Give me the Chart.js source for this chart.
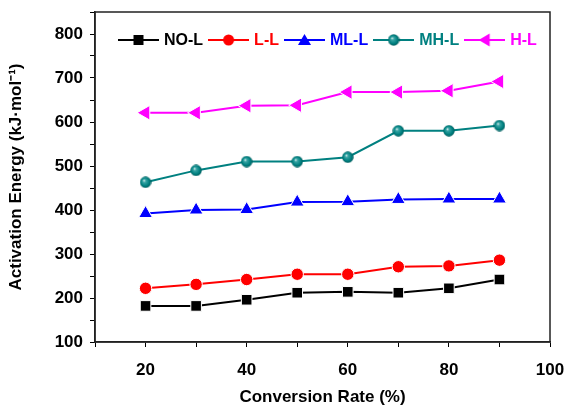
<!DOCTYPE html>
<html>
<head>
<meta charset="utf-8">
<script src="https://cdn.jsdelivr.net/npm/chart.js@4.4.1/dist/chart.umd.min.js"></script>
<style>
  html, body { margin: 0; padding: 0; background: #fff; }
  #wrap { width: 570px; height: 408px; }
</style>
</head>
<body>
<div id="wrap"><canvas id="chart" width="570" height="408"></canvas></div>
<script>
const conversion = [20, 30, 40, 50, 60, 70, 80, 90]
const noL = [182, 182, 196, 212, 214, 212, 222, 242]
const lL = [222, 231, 242, 254, 254, 271, 273, 286]
const mlL = [392, 400, 401, 418, 419, 424, 425, 425]
const mhL = [463, 490, 510, 510, 520, 580, 580, 592]
const hL = [621, 621, 637, 638, 668, 668, 671, 692]
const seriesNames = ['NO-L', 'L-L', 'ML-L', 'MH-L', 'H-L']

const font = 'Liberation Sans, Arial, sans-serif'

// teal shaded ball for MH-L
function sphere(d) {
  const c = document.createElement('canvas')
  c.width = d; c.height = d
  const ctx = c.getContext('2d')
  const g = ctx.createRadialGradient(d * 0.36, d * 0.34, 0, d / 2, d / 2, d / 2)
  g.addColorStop(0, '#ffffff')
  g.addColorStop(0.25, '#3aa6a6')
  g.addColorStop(0.7, '#008080')
  g.addColorStop(1, '#005a5a')
  ctx.fillStyle = g
  ctx.beginPath()
  ctx.arc(d / 2, d / 2, d / 2 - 0.3, 0, Math.PI * 2)
  ctx.fill()
  return c
}
const ball = sphere(12)

// legend symbol: line with marker in the middle
function legendSymbol(color, style, w) {
  const c = document.createElement('canvas')
  c.width = w; c.height = 14
  const ctx = c.getContext('2d')
  const cx = w / 2, cy = 7
  ctx.strokeStyle = color
  ctx.lineWidth = 2
  ctx.beginPath()
  ctx.moveTo(0, cy); ctx.lineTo(w, cy)
  ctx.stroke()
  ctx.fillStyle = color
  ctx.beginPath()
  if (style === 'rect') ctx.rect(cx - 5, cy - 5, 10, 10)
  else if (style === 'circle') ctx.arc(cx, cy, 5.5, 0, Math.PI * 2)
  else if (style === 'up') { ctx.moveTo(cx, cy - 6); ctx.lineTo(cx + 6.5, cy + 5); ctx.lineTo(cx - 6.5, cy + 5) }
  else if (style === 'left') { ctx.moveTo(cx - 6, cy); ctx.lineTo(cx + 5, cy - 6.5); ctx.lineTo(cx + 5, cy + 6.5) }
  ctx.closePath()
  if (style === 'ball') ctx.drawImage(ball, cx - 6, cy - 6)
  else ctx.fill()
  return c
}

function pts(arr) {
  return arr.map((v, i) => ({ x: conversion[i], y: v }))
}

const colors = ['#000000', '#ff0000', '#0000ff', '#008080', '#ff00ff']
const legendStyles = ['rect', 'circle', 'up', 'ball', 'left']
const symW = 41

const frame = {
  id: 'frame',
  afterDraw(chart) {
    const { ctx, chartArea: a } = chart
    ctx.save()
    ctx.strokeStyle = '#222'
    ctx.lineWidth = 1.5
    ctx.strokeRect(a.left, a.top, a.right - a.left, a.bottom - a.top)
    ctx.restore()
  }
}

// legend drawn in a single row inside the plot
const insideLegend = {
  id: 'insideLegend',
  afterDraw(chart) {
    const { ctx, chartArea: a } = chart
    ctx.save()
    ctx.font = 'bold 16px ' + font
    ctx.textBaseline = 'middle'
    let x = a.left + 23
    const y = a.top + 28
    chart.data.datasets.forEach((ds, i) => {
      const sym = legendSymbol(colors[i], legendStyles[i], symW)
      ctx.drawImage(sym, x, y - 7)
      x += symW + 5
      ctx.fillStyle = colors[i]
      ctx.fillText(ds.label, x, y + 1)
      x += ctx.measureText(ds.label).width + 5
    })
    ctx.restore()
  }
}

const common = { borderWidth: 2, pointBorderColor: '#fff', pointBorderWidth: 1, tension: 0 }

new Chart('chart', {
  type: 'line',
  data: {
    datasets: [
      { ...common, label: seriesNames[0], data: pts(noL), borderColor: colors[0], backgroundColor: colors[0], pointStyle: 'rect', pointRadius: 7.5 },
      { ...common, label: seriesNames[1], data: pts(lL), borderColor: colors[1], backgroundColor: colors[1], pointStyle: 'circle', pointRadius: 6.2 },
      { ...common, label: seriesNames[2], data: pts(mlL), borderColor: colors[2], backgroundColor: colors[2], pointStyle: 'triangle', pointRadius: 8 },
      { ...common, label: seriesNames[3], data: pts(mhL), borderColor: colors[3], backgroundColor: colors[3], pointStyle: ball, pointRadius: 6 },
      { ...common, label: seriesNames[4], data: pts(hL), borderColor: colors[4], backgroundColor: colors[4], pointStyle: 'triangle', pointRotation: -90, pointRadius: 8.5 }
    ]
  },
  options: {
    responsive: false,
    animation: false,
    layout: { padding: { top: 12, right: 20, left: 0, bottom: 0 } },
    plugins: {
      tooltip: { enabled: false },
      legend: { display: false }
    },
    scales: {
      x: {
        type: 'linear',
        min: 10,
        max: 100,
        afterFit: s => { s.height = 66; s.paddingRight = 0; s.paddingLeft = 0 },
        grid: { drawOnChartArea: false, tickLength: 5, color: '#000' },
        border: { color: '#222', width: 1.5 },
        ticks: {
          stepSize: 10,
          autoSkip: false,
          maxRotation: 0,
          padding: 13,
          color: '#000',
          font: { family: font, size: 17, weight: 'bold' },
          callback: v => v % 20 === 0 ? v : ''
        },
        title: {
          display: true,
          text: 'Conversion Rate (%)',
          color: '#000',
          padding: { top: 0, bottom: 0 },
          font: { family: font, size: 17, weight: 'bold' }
        }
      },
      y: {
        min: 100,
        max: 850,
        afterFit: s => { s.width = 95; s.paddingTop = 0; s.paddingBottom = 0 },
        grid: { drawOnChartArea: false, tickLength: 5, color: '#000' },
        border: { color: '#222', width: 1.5 },
        ticks: {
          stepSize: 50,
          autoSkip: false,
          padding: 7,
          color: '#000',
          font: { family: font, size: 17, weight: 'bold' },
          callback: v => (v % 100 === 0 && v <= 800) ? v : ''
        },
        title: {
          display: true,
          text: 'Activation Energy (kJ·mol⁻¹)',
          color: '#000',
          padding: { top: 6, bottom: 4 },
          font: { family: font, size: 17, weight: 'bold' }
        }
      }
    }
  },
  plugins: [frame, insideLegend]
})
</script>
</body>
</html>
